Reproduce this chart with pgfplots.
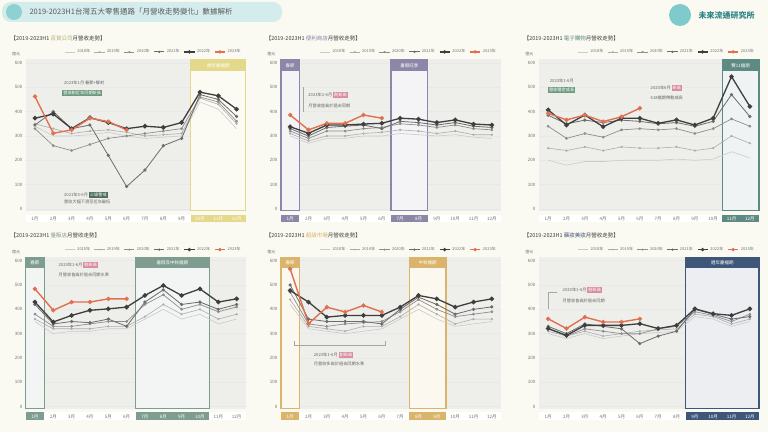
\documentclass[border=0pt]{standalone}
\usepackage{pgfplots}
\pgfplotsset{compat=1.18}
\usepackage{pgfplotstable}
\usepackage{fontspec}
\setmainfont{Noto Sans CJK TC}

\definecolor{bg}{HTML}{FAF9F2}
\definecolor{plotbg}{HTML}{EEEFEB}
\definecolor{c18}{HTML}{CACACA}
\definecolor{c19}{HTML}{ADADAD}
\definecolor{c20}{HTML}{8E8E8E}
\definecolor{c21}{HTML}{6C6C6C}
\definecolor{c22}{HTML}{3E3E3E}
\definecolor{c23}{HTML}{E07050}
\definecolor{pyel}{HTML}{E4D98A}
\definecolor{ppur}{HTML}{8C86A8}
\definecolor{ptea}{HTML}{5E8A84}
\definecolor{pgrn}{HTML}{7E9C90}
\definecolor{ptan}{HTML}{D9B46A}
\definecolor{pnav}{HTML}{3E5678}
\definecolor{tgreen}{HTML}{6E9A80}
\definecolor{tpink}{HTML}{D88CA0}
\definecolor{banner}{HTML}{D4ECEC}
\definecolor{bn}{HTML}{8FD0D0}
\definecolor{lg}{HTML}{7FCBCB}
\definecolor{lgt}{HTML}{2F8585}

% columns: a=2018 b=2019 c=2020 d=2021 e=2022 f=2023
\pgfplotstableread{
m a b c d e f
1 340 350 330 345 373 462
2 300 330 260 400 390 311
3 300 310 240 330 330 325
4 305 320 265 345 375 373
5 315 325 290 220 355 359
6 300 315 300 92 330 325
7 290 300 310 160 340 nan
8 295 305 320 260 335 nan
9 300 310 330 290 355 nan
10 440 455 460 470 480 nan
11 410 430 440 450 465 nan
12 330 350 360 380 410 nan
}\dept
\pgfplotstableread{
m a b c d e f
1 300 310 320 330 338 386
2 270 280 290 300 311 325
3 290 300 320 335 345 352
4 290 300 320 340 345 352
5 300 310 330 345 349 386
6 300 315 335 330 352 373
7 310 325 350 360 373 nan
8 305 320 345 355 369 nan
9 300 310 335 345 355 nan
10 305 320 345 355 366 nan
11 295 305 330 340 349 nan
12 290 305 325 335 345 nan
}\conv
\pgfplotstableread{
m a b c d e f
1 200 250 340 385 407 393
2 180 240 290 350 345 366
3 195 255 310 365 386 386
4 195 240 295 355 338 359
5 200 255 325 365 373 379
6 200 250 330 360 373 414
7 200 250 325 350 352 nan
8 205 255 330 355 366 nan
9 200 240 310 340 345 nan
10 205 250 330 360 373 nan
11 235 300 370 470 544 nan
12 210 270 340 380 421 nan
}\ecom
\pgfplotstableread{
m a b c d e f
1 350 360 380 420 430 484
2 300 320 330 340 348 396
3 310 320 330 350 375 430
4 310 320 340 345 396 430
5 320 330 350 360 402 443
6 320 330 350 330 409 443
7 360 370 420 430 457 nan
8 400 420 460 480 498 nan
9 360 380 400 420 457 nan
10 380 400 420 430 484 nan
11 340 360 390 400 430 nan
12 360 380 410 420 443 nan
}\hyper
\pgfplotstableread{
m a b c d e f
1 420 440 470 500 477 566
2 320 330 340 360 430 341
3 310 320 330 350 368 409
4 300 310 340 350 375 389
5 310 330 345 350 375 416
6 320 330 350 340 375 389
7 360 370 390 400 409 nan
8 400 420 440 450 457 nan
9 360 380 400 420 443 nan
10 330 340 370 380 409 nan
11 340 360 380 400 430 nan
12 350 360 390 410 443 nan
}\superm
\pgfplotstableread{
m a b c d e f
1 300 310 320 330 321 361
2 280 290 290 300 293 321
3 300 310 320 340 334 368
4 280 290 310 330 334 348
5 290 300 300 320 334 348
6 300 310 300 259 341 361
7 305 315 320 290 321 nan
8 310 320 330 310 334 nan
9 370 380 390 400 402 nan
10 360 370 375 380 382 nan
11 330 340 350 360 375 nan
12 350 360 380 370 402 nan
}\other

\pgfplotsset{
  s18/.style={color=c18, line width=0.6pt, mark=none},
  s19/.style={color=c19, line width=0.6pt, mark=*, mark size=0.8pt},
  s20/.style={color=c20, line width=0.7pt, mark=*, mark size=1pt},
  s21/.style={color=c21, line width=0.8pt, mark=*, mark size=1.2pt},
  s22/.style={color=c22, line width=1.3pt, mark=*, mark size=1.6pt},
  s23/.style={color=c23, line width=1.4pt, mark=*, mark size=1.4pt},
  panel/.style={
    scale only axis, width=220pt, height=152.1pt,
    xmin=0.5, xmax=12.5, ymin=-10, ymax=615,
    axis background/.style={fill=plotbg},
    axis line style={draw=none},
    ytick={0,100,...,600}, xtick={1,...,12},
    major tick length=0pt,
    ymajorgrids, grid style={black!9, line width=0.4pt},
    tick label style={font=\fontsize{4.5}{5}\selectfont, text=black!55},
    xticklabel style={inner sep=0pt, yshift=-3pt},
    /pgf/number format/assume math mode=true,
    clip=false,
    legend columns=6,
    legend style={at={(1,1.005)}, anchor=south east, draw=none, fill=none,
      font=\fontsize{4}{5}\selectfont, text=black!55,
      /tikz/every even column/.append style={column sep=2pt}},
    legend image post style={scale=0.6},
  },
}

\newcommand{\years}[1]{%
  \addplot[s18] table[x=m,y=a]{#1}; \addlegendentry{2018年}
  \addplot[s19] table[x=m,y=b]{#1}; \addlegendentry{2019年}
  \addplot[s20] table[x=m,y=c]{#1}; \addlegendentry{2020年}
  \addplot[s21] table[x=m,y=d]{#1}; \addlegendentry{2021年}
  \addplot[s22] table[x=m,y=e]{#1}; \addlegendentry{2022年}
  \addplot[s23] table[x=m,y=f]{#1}; \addlegendentry{2023年}
}
% #1 colour, #2 left edge, #3 right edge, #4 centre, #5 header
\newcommand{\hlbox}[5]{%
  \fill[#1!10] (axis cs:#2,-8) rectangle (axis cs:#3,612);
  \fill[#1] (axis cs:#2,568) rectangle (axis cs:#3,612);
  \draw[#1, line width=1.1pt] (axis cs:#2,-8) rectangle (axis cs:#3,612);
  \node[font=\fontsize{4.5}{5}\selectfont, text=white] at (axis cs:#4,590) {#5};
}
\newcommand{\ptitle}[2]{%
  \node[anchor=west, font=\fontsize{5.5}{6}\selectfont, text=black!75]
    at (rel axis cs:-0.085,1.14) {【2019-2023H1 {\color{#1}#2}月營收走勢】};
  \node[anchor=south east, font=\fontsize{4}{5}\selectfont, text=black!55]
    at (rel axis cs:-0.01,1.0) {億元};
}
\newcommand{\mytag}[2]{{\setlength{\fboxsep}{1pt}\colorbox{#1}{\textcolor{white}{#2}}}}
% plain and highlighted month labels, same box size
\newcommand{\pl}[1]{{\setlength{\fboxsep}{1.2pt}\colorbox{bg!0}{\makebox[16pt]{\rule{0pt}{5pt}#1}}}}
\newcommand{\hl}[2]{{\setlength{\fboxsep}{1.2pt}\colorbox{#1}{\makebox[16pt]{\rule{0pt}{5pt}\textcolor{white}{#2}}}}}

\begin{document}
\begin{tikzpicture}[x=1pt, y=1pt]
\fill[bg] (0,0) rectangle (768,432);
\path[use as bounding box] (0,0) rectangle (768,432);

% header banner
\fill[banner, rounded corners=9pt] (2,410) rectangle (282,430);
\fill[bn] (14,420) circle (8);
\node[anchor=west, font=\fontsize{7.5}{8}\selectfont, text=black!65] at (26,420)
  {2019-2023H1台灣五大零售通路「月營收走勢變化」數據解析};
\fill[lg] (680,417) circle (11);
\node[anchor=west, font=\fontsize{8}{9}\selectfont\bfseries, text=lgt] at (695,417) {未來流通研究所};

% ---------------- panel 1
\begin{axis}[panel, at={(25.8pt,220.6pt)}, anchor=south west,
  xticklabels={\pl{1月},\pl{2月},\pl{3月},\pl{4月},\pl{5月},\pl{6月},\pl{7月},\pl{8月},\pl{9月},\hl{pyel}{10月},\hl{pyel}{11月},\hl{pyel}{12月}}]
  \hlbox{pyel}{9.5}{12.5}{11}{週年慶檔期}
  \years{\dept}
  \ptitle{pyel!80!black}{百貨公司}
  \node[font=\fontsize{4.2}{5}\selectfont, text=black!60, anchor=west] at (axis cs:2.4,520) {2023年1月 春節+解封};
  \node[font=\fontsize{4.2}{5}\selectfont, anchor=west] at (axis cs:2.3,478) {\mytag{tgreen}{營收創近年同期新高}};
  \node[font=\fontsize{4.2}{5}\selectfont, text=black!60, anchor=west] at (axis cs:2.4,58) {2021年5-6月 \mytag{tgreen!70!black}{三級警戒}};
  \node[font=\fontsize{4.2}{5}\selectfont, text=black!60, anchor=west] at (axis cs:2.4,28) {營收大幅下滑至近年最低};
\end{axis}

% ---------------- panel 2
\begin{axis}[panel, at={(281pt,220.6pt)}, anchor=south west,
  xticklabels={\hl{ppur}{1月},\pl{2月},\pl{3月},\pl{4月},\pl{5月},\pl{6月},\hl{ppur}{7月},\hl{ppur}{8月},\pl{9月},\pl{10月},\pl{11月},\pl{12月}}]
  \hlbox{ppur}{0.5}{1.5}{1}{春節}
  \hlbox{ppur}{6.5}{8.5}{7.5}{暑假旺季}
  \years{\conv}
  \ptitle{ppur}{便利商店}
  \node[font=\fontsize{4.2}{5}\selectfont, text=black!60, anchor=west] at (axis cs:1.8,470) {2023年1-6月 \mytag{tpink}{創新高}};
  \node[font=\fontsize{4.2}{5}\selectfont, text=black!60, anchor=west] at (axis cs:1.8,425) {月營收皆高於過去同期};
  \draw[black!35, line width=0.4pt] (axis cs:1.7,500) -- (axis cs:1.7,400);
\end{axis}

% ---------------- panel 3
\begin{axis}[panel, at={(539pt,220.6pt)}, anchor=south west,
  xticklabels={\pl{1月},\pl{2月},\pl{3月},\pl{4月},\pl{5月},\pl{6月},\pl{7月},\pl{8月},\pl{9月},\pl{10月},\hl{ptea}{11月},\hl{ptea}{12月}}]
  \hlbox{ptea}{10.5}{12.5}{11.5}{雙11檔期}
  \years{\ecom}
  \ptitle{ptea}{電子購物}
  \node[font=\fontsize{4.2}{5}\selectfont, text=black!60, anchor=west] at (axis cs:0.9,528) {2023年1-6月};
  \node[font=\fontsize{4.2}{5}\selectfont, anchor=west] at (axis cs:0.8,490) {\mytag{tgreen}{營收穩定成長}};
  \node[font=\fontsize{4.2}{5}\selectfont, text=black!60, anchor=west] at (axis cs:6.4,497) {2023年6月 \mytag{tpink}{新高}};
  \node[font=\fontsize{4.2}{5}\selectfont, text=black!60, anchor=west] at (axis cs:6.4,456) {618檔期帶動成長};
\end{axis}

% ---------------- panel 4
\begin{axis}[panel, at={(25.8pt,22.9pt)}, anchor=south west,
  xticklabels={\hl{pgrn}{1月},\pl{2月},\pl{3月},\pl{4月},\pl{5月},\pl{6月},\hl{pgrn}{7月},\hl{pgrn}{8月},\hl{pgrn}{9月},\hl{pgrn}{10月},\pl{11月},\pl{12月}}]
  \hlbox{pgrn}{0.5}{1.5}{1}{春節}
  \hlbox{pgrn}{6.5}{10.5}{8.5}{暑假及中秋檔期}
  \years{\hyper}
  \ptitle{pgrn}{量販店}
  \node[font=\fontsize{4.2}{5}\selectfont, text=black!60, anchor=west] at (axis cs:2.1,582) {2023年1-6月 \mytag{tpink}{創新高}};
  \node[font=\fontsize{4.2}{5}\selectfont, text=black!60, anchor=west] at (axis cs:2.1,540) {月營收皆高於過去同期水準};
\end{axis}

% ---------------- panel 5
\begin{axis}[panel, at={(281pt,22.9pt)}, anchor=south west,
  xticklabels={\hl{ptan}{1月},\pl{2月},\pl{3月},\pl{4月},\pl{5月},\pl{6月},\pl{7月},\hl{ptan}{8月},\hl{ptan}{9月},\pl{10月},\pl{11月},\pl{12月}}]
  \hlbox{ptan}{0.5}{1.5}{1}{春節}
  \hlbox{ptan}{7.5}{9.5}{8.5}{中秋檔期}
  \years{\superm}
  \ptitle{ptan}{超級市場}
  \draw[black!35, line width=0.4pt] (axis cs:1.2,270) -- (axis cs:1.2,252) -- (axis cs:6.2,252) -- (axis cs:6.2,270);
  \node[font=\fontsize{4.2}{5}\selectfont, text=black!60, anchor=west] at (axis cs:2.1,212) {2023年1-6月 \mytag{tpink}{創新高}};
  \node[font=\fontsize{4.2}{5}\selectfont, text=black!60, anchor=west] at (axis cs:2.1,176) {月營收多高於過去同期水準};
\end{axis}

% ---------------- panel 6
\begin{axis}[panel, at={(539pt,22.9pt)}, anchor=south west,
  xticklabels={\pl{1月},\pl{2月},\pl{3月},\pl{4月},\pl{5月},\pl{6月},\pl{7月},\pl{8月},\hl{pnav}{9月},\hl{pnav}{10月},\hl{pnav}{11月},\hl{pnav}{12月}}]
  \hlbox{pnav}{8.5}{12.5}{10.5}{週年慶檔期}
  \years{\other}
  \ptitle{pnav}{藥妝美妝}
  \node[font=\fontsize{4.2}{5}\selectfont, text=black!60, anchor=west] at (axis cs:1.6,478) {2023年1-6月 \mytag{tpink}{創新高}};
  \node[font=\fontsize{4.2}{5}\selectfont, text=black!60, anchor=west] at (axis cs:1.6,436) {月營收皆高於過去同期};
  \draw[black!35, line width=0.4pt] (axis cs:1.5,470) -- (axis cs:1.0,470) -- (axis cs:1.0,400);
\end{axis}
\end{tikzpicture}
\end{document}
